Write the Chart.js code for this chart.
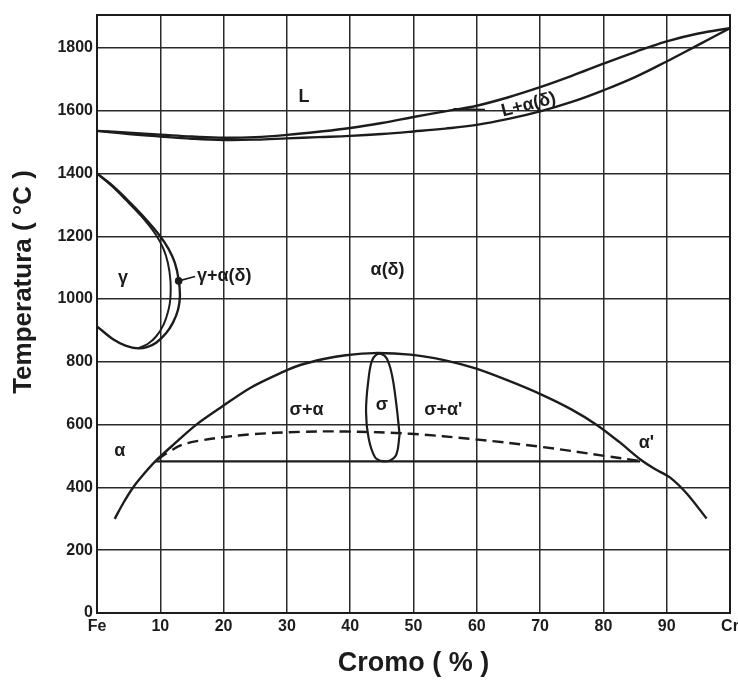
<!DOCTYPE html>
<html>
<head>
<meta charset="utf-8">
<script src="https://cdn.jsdelivr.net/npm/chart.js@4.4.0/dist/chart.umd.min.js"></script>
<style>
  html, body { margin: 0; padding: 0; background: #fff; }
</style>
</head>
<body>
<canvas id="chart" width="738" height="680"></canvas>
<script>
// Fe-Cr phase diagram

// Axis ticks
const xTicks = [0, 10, 20, 30, 40, 50, 60, 70, 80, 90, 100];
const yTicks = [0, 200, 400, 600, 800, 1000, 1200, 1400, 1600, 1800];

// Curves as [Cr %, temperature °C]
const liquidus = [[0,1536],[5,1530],[10,1524],[15,1518],[20,1514],[25,1516],[30,1523],[35,1533],[40,1545],[45,1561],[50,1580],[55,1598],[60,1616],[65,1643],[70,1675],[75,1711],[80,1750],[85,1787],[90,1821],[95,1846],[100,1863]];
const solidus = [[0,1536],[5,1526],[10,1518],[15,1511],[20,1507],[25,1508],[30,1512],[35,1516],[40,1520],[45,1526],[50,1534],[55,1543],[60,1555],[65,1574],[70,1598],[75,1628],[80,1665],[85,1707],[90,1757],[95,1810],[100,1863]];
const gammaOuter = [[0,1400],[2.4,1362],[4.7,1318],[7.3,1264],[9.8,1205],[11.3,1160],[12.3,1115],[12.9,1062],[13.1,1010],[12.8,966],[12.0,925],[10.9,891],[9.4,862],[8.0,848],[6.5,843],[4.5,852],[2.6,871],[0,913]];
const gammaInner = [[0,1400],[2.3,1361],[4.5,1317],[7.0,1264],[9.3,1205],[10.5,1160],[11.2,1115],[11.6,1060],[11.6,1005],[11.3,966],[10.5,918],[9.3,880],[8.0,857],[6.5,843]];
const sigmaSolvus = [[2.8,300],[4.2,352],[5.7,400],[7.5,445],[9.2,483],[12,535],[15.7,600],[19.5,654],[24.2,717],[29.4,768],[32.1,790],[36,810],[39.3,821],[43.7,828],[49.5,823],[55,805],[59.8,779],[65,740],[70.3,695],[75,648],[78.9,600],[82.5,545],[85.8,490],[88.2,458],[90.5,432],[93.2,380],[96.3,301]];
const alphaPrimeLine = [[9.6,490],[11.5,515],[13.6,537],[16.5,550],[19.5,559],[24.2,569],[32.1,577],[39.3,578],[49.5,571],[59.8,553],[70.3,529],[80.4,500],[85.8,484]];
const eutectoid = [[9.2,483],[85.8,483]];
const sigmaLoop = [[47.8,568],[47.3,663],[46.6,758],[45.8,810],[44.9,825],[44.0,821],[43.4,802],[42.9,747],[42.5,642],[42.9,558],[43.9,497],[45.0,484],[46.3,486],[47.3,505],[47.8,568]];
const leaderGamma = [[12.9,1058],[15.5,1072]];
const leaderLiquid = [[56.3,1606],[61.3,1604]];

// Region labels [text, Cr %, °C, rotation deg, align]
const regionLabels = [
    ['L', 32.7, 1645, 0, 'center'],
    ['L+α(δ)', 68.2, 1619, -14.5, 'center'],
    ['γ', 4.1, 1068, 0, 'center'],
    ['γ+α(δ)', 15.8, 1073, 0, 'left'],
    ['α(δ)', 45.9, 1094, 0, 'center'],
    ['σ+α', 33.1, 647, 0, 'center'],
    ['σ', 45.0, 663, 0, 'center'],
    ["σ+α'", 54.7, 647, 0, 'center'],
    ["α'", 86.8, 542, 0, 'center'],
    ['α', 3.6, 517, 0, 'center']
];

const INK = '#1c1c1c';
const FONT = '"Liberation Sans", Arial, sans-serif';

function toXY(points) {
    return points.map(p => ({ x: p[0], y: p[1] }));
}

function curve(points, extra) {
    return Object.assign({
        data: toXY(points),
        showLine: true,
        borderColor: INK,
        backgroundColor: INK,
        borderWidth: 2.4,
        pointRadius: 0,
        tension: 0.4,
        fill: false
    }, extra || {});
}

const overlayPlugin = {
    id: 'overlay',
    afterDatasetsDraw(chart) {
        const { ctx, chartArea: a, scales } = chart;
        ctx.save();
        ctx.strokeStyle = INK;
        ctx.lineWidth = 2;
        ctx.strokeRect(a.left, a.top, a.right - a.left, a.bottom - a.top);

        ctx.fillStyle = INK;
        ctx.font = 'bold 18px ' + FONT;
        ctx.textBaseline = 'middle';
        regionLabels.forEach(l => {
            ctx.save();
            ctx.translate(scales.x.getPixelForValue(l[1]), scales.y.getPixelForValue(l[2]));
            ctx.rotate(l[3] * Math.PI / 180);
            ctx.textAlign = l[4];
            ctx.fillText(l[0], 0, 0);
            ctx.restore();
        });

        // y axis title
        ctx.save();
        ctx.translate(24, 282);
        ctx.rotate(-Math.PI / 2);
        ctx.font = 'bold 26px ' + FONT;
        ctx.textAlign = 'center';
        ctx.fillText('Temperatura ( °C )', 0, 0);
        ctx.restore();
        ctx.restore();
    }
};

new Chart(document.getElementById('chart').getContext('2d'), {
    type: 'scatter',
    data: {
        datasets: [
            curve(liquidus),
            curve(solidus),
            curve(gammaOuter, { tension: 0.35 }),
            curve(gammaInner, { tension: 0.35, borderWidth: 2 }),
            curve(sigmaSolvus, { tension: 0.3 }),
            curve(alphaPrimeLine, { borderDash: [11, 6] }),
            curve(eutectoid, { tension: 0 }),
            curve(sigmaLoop, { tension: 0.4, borderWidth: 2.2 }),
            curve(leaderGamma, { tension: 0, borderWidth: 1.6, pointRadius: [3, 0] }),
            curve(leaderLiquid, { tension: 0, borderWidth: 1.6 })
        ]
    },
    options: {
        responsive: false,
        animation: false,
        layout: { padding: { top: 15, right: 8, left: 0, bottom: 0 } },
        plugins: {
            legend: { display: false },
            tooltip: { enabled: false }
        },
        scales: {
            x: {
                type: 'linear',
                min: 0,
                max: 100,
                afterBuildTicks: s => { s.ticks = xTicks.map(v => ({ value: v })); },
                afterFit: s => { s.height = 67; s.paddingLeft = 0; s.paddingRight = 0; },
                grid: { color: '#2a2a2a', lineWidth: 1.5, drawTicks: false },
                border: { display: false },
                ticks: {
                    padding: 4,
                    autoSkip: false,
                    maxRotation: 0,
                    color: INK,
                    font: { family: FONT, size: 16, weight: 'bold' },
                    callback: v => v === 0 ? 'Fe' : (v === 100 ? 'Cr' : String(v))
                },
                title: {
                    display: true,
                    text: 'Cromo ( % )',
                    color: INK,
                    font: { family: FONT, size: 27, weight: 'bold' },
                    padding: { top: 0, bottom: 0 }
                }
            },
            y: {
                type: 'linear',
                min: 0,
                max: 1905,
                afterBuildTicks: s => { s.ticks = yTicks.map(v => ({ value: v })); },
                afterFit: s => { s.width = 97; s.paddingTop = 0; s.paddingBottom = 0; },
                grid: { color: '#2a2a2a', lineWidth: 1.5, drawTicks: false },
                border: { display: false },
                ticks: {
                    padding: 4,
                    color: INK,
                    font: { family: FONT, size: 16, weight: 'bold' },
                    callback: v => String(v)
                }
            }
        }
    },
    plugins: [overlayPlugin]
});
</script>
</body>
</html>
